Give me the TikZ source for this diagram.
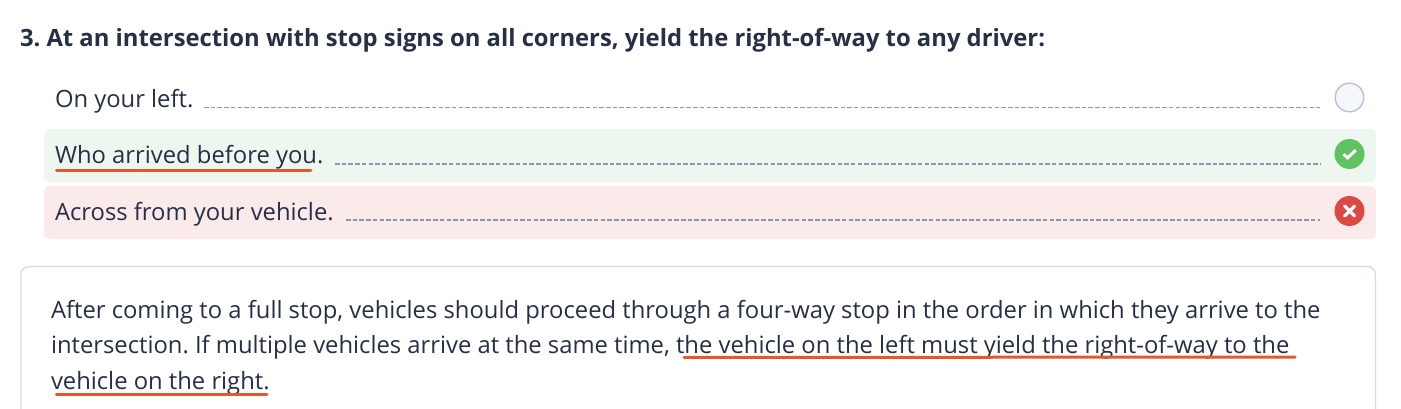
\documentclass[tikz,border=0pt]{standalone}
\usepackage{fontspec}
\setmainfont{Open Sans}
\definecolor{ink}{HTML}{262F46}
\definecolor{dashc}{HTML}{8F96AB}
\definecolor{okbg}{HTML}{EEF7EF}
\definecolor{badbg}{HTML}{FAEBEA}
\definecolor{okc}{HTML}{5FC263}
\definecolor{badc}{HTML}{DA4A43}
\definecolor{ulc}{HTML}{E4582B}
\definecolor{boxc}{HTML}{D5DCE8}
\definecolor{ringc}{HTML}{B9C2D3}
\definecolor{ringf}{HTML}{F5F7FC}
\tikzset{
  txt/.style={anchor=base west,inner sep=0pt,outer sep=0pt,text=ink,font=\fontsize{23.8}{28}\selectfont\frenchspacing},
  ttl/.style={txt,font=\fontsize{23.8}{28}\selectfont\bfseries\frenchspacing},
  leader/.style={draw=dashc,line width=1.3pt,dash pattern=on 4.5pt off 2.2pt},
  band/.style={rounded corners=6pt,draw=none},
  ul/.style={draw=ulc,line width=3pt,line cap=round},
  dot/.style={circle,minimum size=30pt,inner sep=0pt,outer sep=0pt}
}
\begin{document}
\begin{tikzpicture}[x=1pt,y=-1pt]
\useasboundingbox (0,0) rectangle (1401,409);
\fill[white] (0,0) rectangle (1401,409);
\fill[okbg,band] (44,129) rectangle (1376,182);
\fill[badbg,band] (44,186) rectangle (1376,239);
\draw[boxc,line width=1.3pt,rounded corners=8pt] (21,409.9) -- (21,266.5) -- (1375.5,266.5) -- (1375.5,409.9);
\node[ttl] (title) at (20,47) {3. At an intersection with stop signs on all corners, yield the right-of-way to any driver:};
\node[txt] (a1) at (55,108) {On your left.};
\node[txt] (a2) at (55,164) {Who arrived before you.};
\node[txt] (a3) at (55,220) {Across from your vehicle.};
\node[dot,draw=ringc,line width=1.4pt,fill=ringf,minimum size=28.5pt] (c1) at (1349.5,97.5) {};
\node[dot,fill=okc] (c2) at (1349.5,154) {};
\node[dot,fill=badc] (c3) at (1349.5,211) {};
\draw[white,line width=3pt] ([shift={(-6,0.2)}]c2.center) -- ([shift={(-2,4)}]c2.center) -- ([shift={(6.2,-4)}]c2.center);
\draw[white,line width=3.2pt,line cap=round] ([shift={(-5,-5)}]c3.center) -- ([shift={(5,5)}]c3.center);
\draw[white,line width=3.2pt,line cap=round] ([shift={(-5,5)}]c3.center) -- ([shift={(5,-5)}]c3.center);
\coordinate (l1s) at (204,107.3); \coordinate (l1e) at (1320,107.3);
\coordinate (l2s) at (335,164); \coordinate (l2e) at (1320,164);
\coordinate (l3s) at (346,220); \coordinate (l3e) at (1320,220);
\draw[leader] (l1s) -- (l1e);
\draw[leader] (l2s) -- (l2e);
\draw[leader] (l3s) -- (l3e);
\node[txt] (p1) at (51,318) {After coming to a full stop, vehicles should proceed through a four-way stop in the order in which they arrive to the};
\node[txt] (p2) at (51,353) {intersection. If multiple vehicles arrive at the same time, the vehicle on the left must yield the right-of-way to the};
\node[txt] (p3) at (51,389) {vehicle on the right.};
\coordinate (u1s) at (56.5,171); \coordinate (u1e) at (311,171);
\coordinate (u2s) at (684,357.5); \coordinate (u2e) at (1295,357);
\coordinate (u3s) at (56.5,394); \coordinate (u3e) at (267,394);
\draw[ul] (u1s) -- (u1e);
\draw[ul] (u2s) -- (u2e);
\draw[ul] (u3s) -- (u3e);
\end{tikzpicture}
\end{document}
